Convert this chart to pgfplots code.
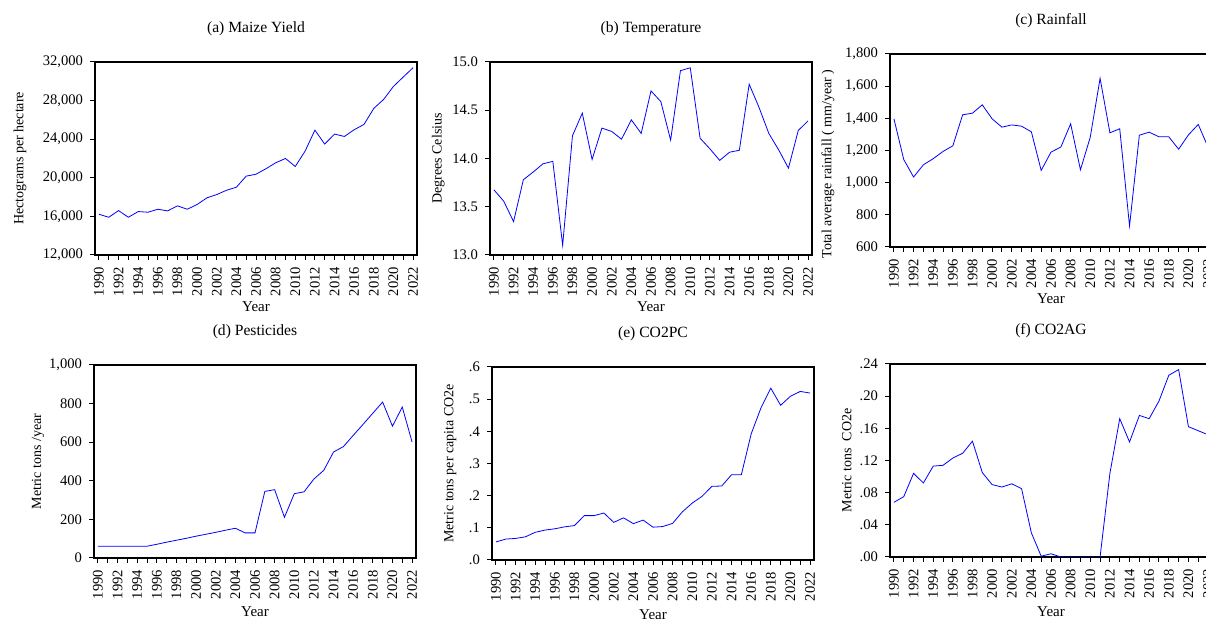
\documentclass[border=0pt]{standalone}
\usepackage{pgfplots}
\pgfplotsset{compat=1.18}
\usepackage{fontspec}
\setmainfont{Liberation Serif}
\definecolor{eblue}{RGB}{0,0,255}
\pgfplotsset{
 ev/.style={
  scale only axis, width=161pt, height=96.5pt,
  anchor=south west,
  xmin=1989.6, xmax=2022.4,
  xtick={1990,1992,...,2022}, minor xtick={1991,1993,...,2021},
  tick pos=left, tick align=outside,
  major tick length=2.5pt, minor tick length=2.5pt,
  tick style={black, line width=0.5pt},
  axis line style={black, line width=0.8pt},
  font=\fontsize{7}{8}\selectfont,
  /pgf/number format/assume math mode=true,
  x tick label style={rotate=90, anchor=east, /pgf/number format/1000 sep={}, font=\fontsize{7.3}{8}\selectfont},
  y tick label style={font=\fontsize{7.3}{8}\selectfont},
  scaled y ticks=false,
  title style={font=\fontsize{7.8}{9}\selectfont, yshift=3.5pt},
  xlabel={Year},
  xlabel style={font=\fontsize{7.5}{9}\selectfont, at={(axis description cs:0.5,-0.27)}, anchor=center},
  ylabel style={anchor=center},
  no markers,
  cycle list={{eblue, line width=0.55pt}},
 }
}
\begin{document}
\begin{tikzpicture}
\useasboundingbox (0,0) rectangle (603pt,309.5pt);
\clip (0,0) rectangle (603pt,309.5pt);
% (a)
\begin{axis}[ev, at={(47.5pt,182pt)},
 title={(a) Maize Yield},
 ymin=12000, ymax=32000,
 ytick={12000,16000,20000,24000,28000,32000},
 yticklabels={12{,}000,16{,}000,20{,}000,24{,}000,28{,}000,32{,}000},
 ylabel={Hectograms per hectare},
 ylabel style={at={(axis description cs:-0.233,0.5)}}]
\addplot table {
x y
1990 16220
1991 15910
1992 16600
1993 15910
1994 16500
1995 16430
1996 16740
1997 16570
1998 17090
1999 16740
2000 17230
2001 17920
2002 18260
2003 18710
2004 19020
2005 20170
2006 20370
2007 20930
2008 21550
2009 22000
2010 21170
2011 22760
2012 24940
2013 23490
2014 24530
2015 24280
2016 24980
2017 25530
2018 27190
2019 28120
2020 29470
2021 30440
2022 31410
};
\end{axis}
% (b)
\begin{axis}[ev, at={(245pt,182pt)},
 title={(b) Temperature},
 ymin=13, ymax=15,
 ytick={13,13.5,14,14.5,15},
 yticklabels={13.0,13.5,14.0,14.5,15.0},
 ylabel={Degrees Celsius},
 ylabel style={at={(axis description cs:-0.161,0.5)}}]
\addplot table {
x y
1990 13.675
1991 13.557
1992 13.346
1993 13.78
1994 13.86
1995 13.945
1996 13.97
1997 13.10
1998 14.235
1999 14.47
2000 13.99
2001 14.315
2002 14.28
2003 14.20
2004 14.40
2005 14.26
2006 14.70
2007 14.59
2008 14.19
2009 14.91
2010 14.94
2011 14.21
2012 14.10
2013 13.98
2014 14.065
2015 14.085
2016 14.77
2017 14.53
2018 14.26
2019 14.09
2020 13.90
2021 14.29
2022 14.39
};
\end{axis}
% (c)
\begin{axis}[ev, at={(445pt,186pt)},
 title={(c) Rainfall},
 ymin=600, ymax=1800,
 ytick={600,800,1000,1200,1400,1600,1800},
 yticklabels={600,800,1{,}000,1{,}200,1{,}400,1{,}600,1{,}800},
 ylabel={Total average rainfall ( mm/year )},
 ylabel style={at={(axis description cs:-0.193,0.43)}}]
\addplot table {
x y
1990 1397
1991 1144
1992 1035
1993 1111
1994 1149
1995 1194
1996 1229
1997 1422
1998 1432
1999 1484
2000 1397
2001 1345
2002 1359
2003 1351
2004 1316
2005 1076
2006 1190
2007 1221
2008 1366
2009 1080
2010 1283
2011 1649
2012 1310
2013 1335
2014 731
2015 1295
2016 1314
2017 1285
2018 1285
2019 1208
2020 1297
2021 1362
2022 1220
};
\end{axis}
% (d)
\begin{axis}[ev, at={(47pt,30.5pt)},
 title={(d) Pesticides},
 ymin=0, ymax=1000,
 ytick={0,200,400,600,800,1000},
 yticklabels={0,200,400,600,800,1{,}000},
 ylabel={Metric tons /year},
 ylabel style={at={(axis description cs:-0.174,0.5)}},
 xlabel style={at={(axis description cs:0.5,-0.28)}}]
\addplot table {
x y
1990 61
1991 61
1992 61
1993 61
1994 61
1995 61
1996 71
1997 82
1998 92
1999 102
2000 113
2001 123
2002 133
2003 144
2004 154
2005 130
2006 130
2007 345
2008 354
2009 211
2010 333
2011 343
2012 409
2013 454
2014 549
2015 577
2016 635
2017 692
2018 750
2019 808
2020 683
2021 782
2022 601
};
\end{axis}
% (e)
\begin{axis}[ev, at={(246pt,29.5pt)},
 title={(e) CO2PC},
 ymin=0, ymax=0.6,
 ytick={0,0.1,0.2,0.3,0.4,0.5,0.6},
 yticklabels={.0,.1,.2,.3,.4,.5,.6},
 ylabel={Metric tons per capita CO2e},
 ylabel style={at={(axis description cs:-0.13,0.5)}},
 xlabel style={at={(axis description cs:0.5,-0.285)}}]
\addplot table {
x y
1990 0.056
1991 0.065
1992 0.067
1993 0.072
1994 0.086
1995 0.093
1996 0.097
1997 0.103
1998 0.107
1999 0.138
2000 0.138
2001 0.146
2002 0.117
2003 0.131
2004 0.113
2005 0.124
2006 0.102
2007 0.104
2008 0.114
2009 0.150
2010 0.177
2011 0.198
2012 0.229
2013 0.230
2014 0.265
2015 0.265
2016 0.392
2017 0.473
2018 0.534
2019 0.481
2020 0.509
2021 0.524
2022 0.519
};
\end{axis}
% (f)
\begin{axis}[ev, at={(445pt,31pt)},
 title={(f) CO2AG},
 ymin=0, ymax=0.24,
 ytick={0,0.04,0.08,0.12,0.16,0.20,0.24},
 yticklabels={.00,.04,.08,.12,.16,.20,.24},
 ylabel={Metric tons\ \ CO2e},
 ylabel style={at={(axis description cs:-0.134,0.5)}},
 xlabel style={at={(axis description cs:0.5,-0.285)}}]
\addplot table {
x y
1990 0.068
1991 0.075
1992 0.104
1993 0.092
1994 0.113
1995 0.114
1996 0.123
1997 0.129
1998 0.144
1999 0.105
2000 0.090
2001 0.087
2002 0.091
2003 0.085
2004 0.030
2005 0.001
2006 0.004
2007 0.000
2008 0.000
2009 0.000
2010 0.000
2011 0.000
2012 0.104
2013 0.172
2014 0.143
2015 0.176
2016 0.172
2017 0.194
2018 0.226
2019 0.233
2020 0.162
2021 0.157
2022 0.152
};
\end{axis}
\end{tikzpicture}
\end{document}
